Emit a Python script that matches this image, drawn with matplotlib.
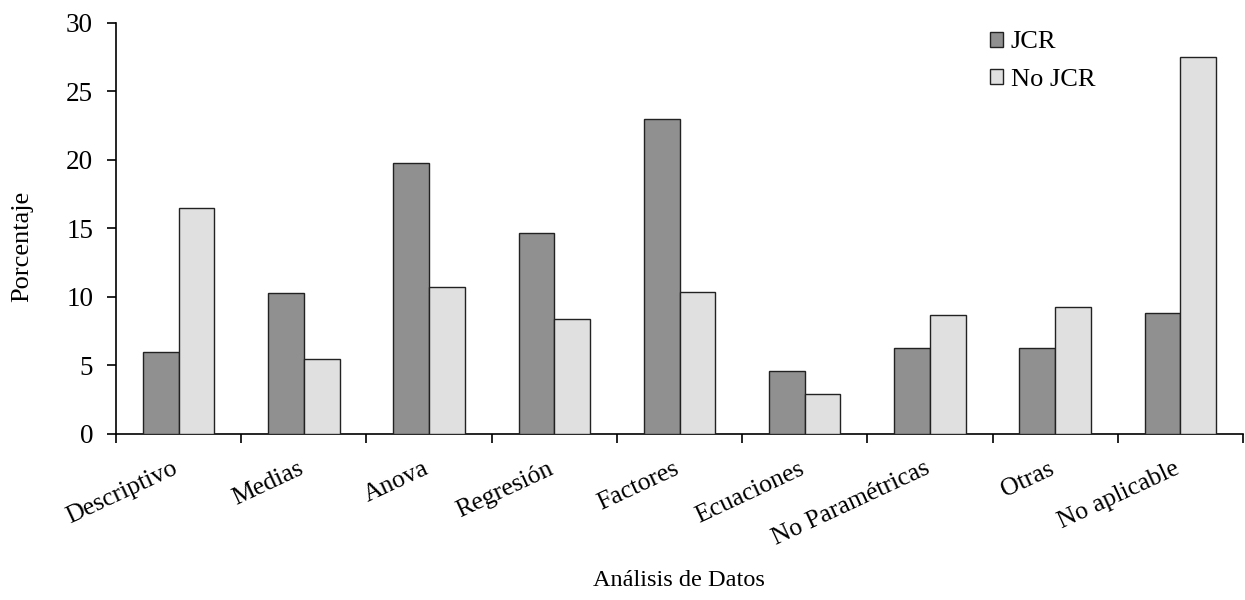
import numpy as np
import matplotlib
matplotlib.use("Agg")
import matplotlib.pyplot as plt
from matplotlib.transforms import ScaledTranslation

plt.rcParams["font.family"] = ["Liberation Serif", "DejaVu Serif"]

categories = ["Descriptivo", "Medias", "Anova", "Regresión", "Factores",
              "Ecuaciones", "No Paramétricas", "Otras", "No aplicable"]
jcr = [6.0, 10.3, 19.8, 14.7, 23.0, 4.6, 6.3, 6.3, 8.8]
no_jcr = [16.5, 5.5, 10.7, 8.4, 10.4, 2.9, 8.7, 9.3, 27.5]
series_names = ["JCR", "No JCR"]
yticks = [0, 5, 10, 15, 20, 25, 30]

fig = plt.figure(figsize=(12.45, 6.0), dpi=100)
ax = fig.add_axes([0.0932, 0.2767, 0.9052, 0.685])

x = np.arange(len(categories))
w = 0.285
ax.bar(x - w / 2, jcr, w, color="#909090", edgecolor="#222222", linewidth=1.0,
       label=series_names[0], zorder=3)
ax.bar(x + w / 2, no_jcr, w, color="#e0e0e0", edgecolor="#222222", linewidth=1.0,
       label=series_names[1], zorder=3)

ax.set_xlim(-0.5, len(categories) - 0.5)
ax.set_ylim(0, 30)
ax.set_yticks(yticks)
ax.tick_params(axis="y", direction="out", length=6.5, width=1.2, labelsize=19.5, pad=10)

# boundary ticks as major, labels on minor ticks at category centres
ax.set_xticks(np.arange(-0.5, len(categories), 1.0))
ax.set_xticklabels([])
ax.tick_params(axis="x", which="major", direction="out", length=6.5, width=1.2)
ax.set_xticks(x, minor=True)
ax.set_xticklabels(categories, minor=True, rotation=25, ha="right",
                   rotation_mode="anchor", fontsize=18.5)
ax.tick_params(axis="x", which="minor", length=0, pad=17)
shift = ScaledTranslation(-0.065, 0, fig.dpi_scale_trans)
for lbl in ax.get_xticklabels(minor=True):
    lbl.set_transform(lbl.get_transform() + shift)

for s in ["top", "right"]:
    ax.spines[s].set_visible(False)
for s in ["left", "bottom"]:
    ax.spines[s].set_linewidth(1.2)

fig.text(0.0177, 0.59, "Porcentaje", rotation=90, ha="center", va="center", fontsize=19)
fig.text(0.545, 0.033, "Análisis de Datos", ha="center", va="center", fontsize=17.5)

ax.legend(loc="upper left", bbox_to_anchor=(0.766, 1.005), frameon=False,
          fontsize=19, handlelength=0.5, handleheight=0.5, handletextpad=0.3,
          labelspacing=0.6, borderaxespad=0)

fig.savefig("out.png", dpi=100)
